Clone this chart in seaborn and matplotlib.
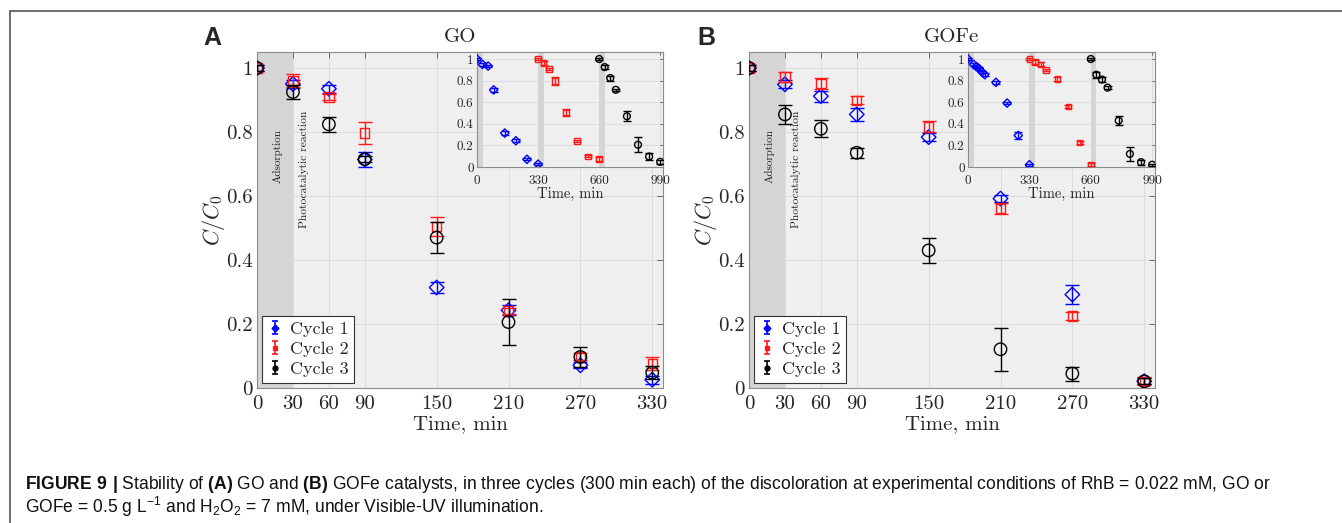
import numpy as np
import pandas as pd
import matplotlib
matplotlib.use("Agg")
import matplotlib.pyplot as plt
import seaborn as sns
from matplotlib.lines import Line2D
from matplotlib.container import ErrorbarContainer
from matplotlib.legend_handler import HandlerErrorbar

# ---------------------------------------------------------------- data
times = [0, 30, 60, 90, 150, 210, 270, 330]
x_ticks = [0, 30, 60, 90, 150, 210, 270, 330]
y_ticks = [0, 0.2, 0.4, 0.6, 0.8, 1.0]
y_tick_labels = ["0", "0.2", "0.4", "0.6", "0.8", "1"]
inset_x_ticks = [0, 330, 660, 990]
cycle_names = ["Cycle 1", "Cycle 2", "Cycle 3"]

# GO, C/C0 per cycle and standard deviation
go_c1 = [1.0, 0.950, 0.935, 0.714, 0.314, 0.243, 0.071, 0.026]
go_c1_err = [0.010, 0.012, 0.012, 0.022, 0.018, 0.015, 0.010, 0.012]
go_c2 = [1.0, 0.961, 0.909, 0.797, 0.505, 0.241, 0.099, 0.076]
go_c2_err = [0.010, 0.020, 0.010, 0.035, 0.030, 0.010, 0.010, 0.020]
go_c3 = [1.0, 0.925, 0.824, 0.715, 0.470, 0.206, 0.097, 0.048]
go_c3_err = [0.008, 0.022, 0.023, 0.010, 0.048, 0.071, 0.031, 0.020]

# GOFe, C/C0 per cycle and standard deviation
gofe_c1 = [1.0, 0.949, 0.912, 0.855, 0.784, 0.592, 0.292, 0.021]
gofe_c1_err = [0.010, 0.012, 0.017, 0.020, 0.012, 0.012, 0.030, 0.010]
gofe_c2 = [1.0, 0.972, 0.951, 0.899, 0.816, 0.560, 0.225, 0.021]
gofe_c2_err = [0.008, 0.017, 0.017, 0.013, 0.017, 0.017, 0.012, 0.012]
gofe_c3 = [1.0, 0.855, 0.810, 0.735, 0.430, 0.121, 0.045, 0.021]
gofe_c3_err = [0.008, 0.029, 0.026, 0.015, 0.040, 0.068, 0.022, 0.010]

# consecutive-run time axis (min) for the three cycles
run_t1 = [0, 30, 60, 90, 150, 210, 270, 330]
run_t2 = [330, 360, 390, 420, 480, 540, 600, 660]
run_t3 = [660, 690, 720, 750, 810, 870, 930, 990]

# GOFe first cycle was sampled more densely at the start
gofe_run_t1 = [0, 30, 45, 60, 75, 90, 150, 210, 270, 330]
gofe_run_c1 = [1.0, 0.950, 0.930, 0.910, 0.880, 0.855, 0.784, 0.592, 0.292, 0.021]
gofe_run_c1_err = [0.010, 0.012, 0.010, 0.012, 0.010, 0.015, 0.012, 0.012, 0.030, 0.010]

# ---------------------------------------------------------------- style
sns.set_style("white")
plt.rcParams["font.family"] = ["cmr10", "DejaVu Serif"]
plt.rcParams["axes.formatter.use_mathtext"] = True
plt.rcParams["mathtext.fontset"] = "cm"
plt.rcParams["mathtext.rm"] = "Liberation Sans"
plt.rcParams["mathtext.bf"] = "Liberation Sans:bold"

colors = ["#0000ff", "#ff1a1a", "#000000"]
markers = ["D", "s", "o"]
main_sizes = [55, 45, 80]
inset_sizes = [18, 16, 24]
BG = "#efefef"
BAND = "#d5d5d5"
GRID = "#d9d9d9"
SPINE = "#8c8c8c"

W, H = 1342, 523
fig = plt.figure(figsize=(W / 100, H / 100), dpi=100)


def frac(left, top, right, bottom):
    return [left / W, 1 - bottom / H, (right - left) / W, (bottom - top) / H]


def style_axes(ax, xlim, ylim, xticks, xlabels, fs, pad_x, pad_y, tick_len):
    ax.set_facecolor(BG)
    ax.set_xlim(*xlim)
    ax.set_ylim(*ylim)
    ax.set_xticks(xticks)
    ax.set_xticklabels(xlabels)
    ax.set_yticks(y_ticks)
    ax.set_yticklabels(y_tick_labels)
    ax.grid(True, color=GRID, lw=0.6)
    ax.set_axisbelow(True)
    for sp in ax.spines.values():
        sp.set_color(SPINE)
        sp.set_linewidth(0.8)
    ax.tick_params(axis="both", direction="in", length=tick_len, width=0.6,
                   color="#555555", top=True, right=True, labelsize=fs)
    ax.tick_params(axis="x", pad=pad_x)
    ax.tick_params(axis="y", pad=pad_y)


def draw_series(ax, t, v, e, idx, size, cap):
    df = pd.DataFrame({"t": t, "v": v})
    sns.scatterplot(data=df, x="t", y="v", marker=markers[idx], s=size,
                    color=colors[idx], facecolor="none", edgecolor=colors[idx],
                    linewidth=1.0, ax=ax, legend=False, zorder=4)
    ax.errorbar(t, v, yerr=e, fmt="none", ecolor=colors[idx], elinewidth=1.0,
                capsize=cap, capthick=1.0, zorder=4)


def main_panel(rect, title, letter, letter_x, series):
    ax = fig.add_axes(rect)
    style_axes(ax, (0, 339), (0, 1.05), x_ticks, [str(x) for x in x_ticks],
               15, 5, 3, 4)
    ax.axvspan(0, 30, color=BAND, lw=0, zorder=1)
    for i, (v, e) in enumerate(series):
        draw_series(ax, times, v, e, i, main_sizes[i], 5)
    ax.set_title(title, fontsize=15, pad=7)
    ax.set_xlabel("Time, min", fontsize=15, labelpad=2)
    ax.set_ylabel(r"$C/C_0$", fontsize=16, labelpad=-1)
    ax.text(17.5, 0.725, "Adsorption", rotation=90, ha="center", va="center",
            fontsize=8, color="#222222")
    ax.text(39, 0.684, "Photocatalytic reaction", rotation=90, ha="center",
            va="center", fontsize=8.3, color="#222222")
    handles = []
    for i in range(3):
        h = ax.errorbar([np.nan], [np.nan], yerr=[0.05], fmt=markers[i], ms=3.5,
                        color=colors[i], mfc=colors[i], mec=colors[i],
                        elinewidth=1.2, capsize=2.5, capthick=1.2)
        handles.append(h)
    leg = ax.legend(handles, cycle_names, loc="lower left",
                    bbox_to_anchor=(0.013, 0.016), borderaxespad=0,
                    prop={"family": ["cmr10"], "size": 13},
                    frameon=True, fancybox=False, framealpha=1,
                    edgecolor="#333333", borderpad=0.3, handlelength=0.8,
                    handletextpad=0.45, labelspacing=0.24,
                    handler_map={ErrorbarContainer:
                                 HandlerErrorbar(xerr_size=0.35, yerr_size=0.36)})
    leg.get_frame().set_linewidth(0.8)
    fig.text(letter_x / W, 1 - 38 / H, letter, fontsize=18, fontweight="bold",
             family="Liberation Sans", ha="left", va="center")
    return ax


def inset_panel(rect, runs):
    ax = fig.add_axes(rect)
    style_axes(ax, (0, 1005), (0, 1.065), inset_x_ticks,
               [str(x) for x in inset_x_ticks], 9.5, 5.5, 2.5, 2.5)
    for start in (0, 330, 660):
        ax.axvspan(start, start + 30, color=BAND, lw=0, zorder=1)
    for i, (t, v, e) in enumerate(runs):
        draw_series(ax, t, v, e, i, inset_sizes[i], 3)
    ax.set_xlabel("Time, min", fontsize=10.5, labelpad=0.5)
    ax.set_ylabel("")
    return ax


# ---------------------------------------------------------------- panels
main_panel(frac(257, 52, 663, 388), "GO", "A", 203,
           [(go_c1, go_c1_err), (go_c2, go_c2_err), (go_c3, go_c3_err)])
inset_panel(frac(477, 52, 663, 167),
            [(run_t1, go_c1, go_c1_err), (run_t2, go_c2, go_c2_err),
             (run_t3, go_c3, go_c3_err)])

main_panel(frac(749, 52, 1155, 388), "GOFe", "B", 697,
           [(gofe_c1, gofe_c1_err), (gofe_c2, gofe_c2_err),
            (gofe_c3, gofe_c3_err)])
inset_panel(frac(968, 52, 1155, 167),
            [(gofe_run_t1, gofe_run_c1, gofe_run_c1_err),
             (run_t2, gofe_c2, gofe_c2_err), (run_t3, gofe_c3, gofe_c3_err)])

# ---------------------------------------------------------------- frame & caption
fig.add_artist(Line2D([9.5 / W, 9.5 / W], [0, 1 - 11 / H],
                      transform=fig.transFigure, color="#555555", lw=1.2))
fig.add_artist(Line2D([9.5 / W, 1], [1 - 11 / H, 1 - 11 / H],
                      transform=fig.transFigure, color="#555555", lw=1.2))

caption_1 = (r"$\mathbf{FIGURE\ 9\ |}$ Stability of $\mathbf{(A)}$ GO and "
             r"$\mathbf{(B)}$ GOFe catalysts, in three cycles (300 min each) of "
             r"the discoloration at experimental conditions of RhB = 0.022 mM, GO or")
caption_2 = (r"GOFe = 0.5 g L$^{-1}$ and H$_2$O$_2$ = 7 mM, under Visible-UV "
             r"illumination.")
for text, y in ((caption_1, 489), (caption_2, 513)):
    fig.text(25 / W, 1 - y / H, text, fontsize=12.65, family="Liberation Sans",
             math_fontfamily="custom", ha="left", va="baseline", color="#111111")

fig.savefig("out.png", dpi=100)
